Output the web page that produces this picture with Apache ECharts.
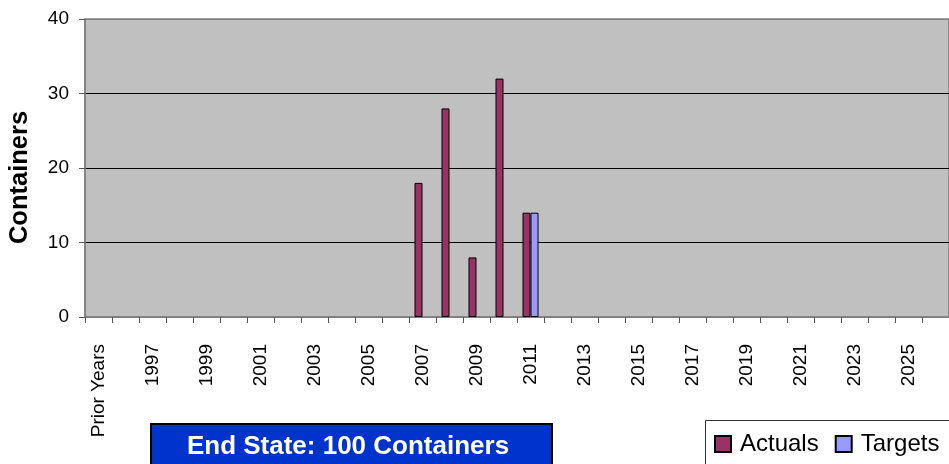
<!DOCTYPE html>
<html>
<head>
<meta charset="utf-8">
<script src="https://cdn.jsdelivr.net/npm/echarts@6/dist/echarts.min.js"></script>
<style>
html,body{margin:0;padding:0;background:#fff;}
#c{width:949px;height:464px;}
</style>
</head>
<body>
<div id="c"></div>
<script>
var categories = ['Prior Years','1996','1997','1998','1999','2000','2001','2002','2003','2004','2005','2006','2007','2008','2009','2010','2011','2012','2013','2014','2015','2016','2017','2018','2019','2020','2021','2022','2023','2024','2025','2026'];
var actuals = [null,null,null,null,null,null,null,null,null,null,null,null,18,28,8,32,14,null,null,null,null,null,null,null,null,null,null,null,null,null,null,null];
var targets = [null,null,null,null,null,null,null,null,null,null,null,null,null,null,null,null,14,null,null,null,null,null,null,null,null,null,null,null,null,null,null,null];
var yTicks = [0,10,20,30,40];
var yAxisTitle = 'Containers';
var endStateText = 'End State: 100 Containers';

var FONT = '"Liberation Sans", Arial, sans-serif';
var chart = echarts.init(document.getElementById('c'), null, {renderer:'canvas'});
chart.setOption({
  animation: false,
  textStyle: {fontFamily: FONT},
  grid: {left: 85, right: 0, top: 19, bottom: 147, show: true, backgroundColor: '#C0C0C0', borderColor: '#808080', borderWidth: 1.5},
  legend: {
    left: 714, top: 432, padding: 0,
    itemWidth: 16, itemHeight: 16, itemGap: 16,
    icon: 'rect',
    textStyle: {fontSize: 24, color: '#000', fontFamily: FONT, padding: [0,0,0,4]},
    data: ['Actuals','Targets']
  },
  xAxis: {
    type: 'category',
    data: categories,
    boundaryGap: true,
    axisLine: {lineStyle: {color: '#808080', width: 1.5}},
    axisTick: {show: true, interval: 0, length: 6, lineStyle: {color: '#555'}},
    axisLabel: {interval: 1, rotate: 90, margin: 27, fontSize: 19, color: '#000', fontFamily: FONT},
    splitLine: {show: false}
  },
  yAxis: {
    type: 'value',
    min: yTicks[0], max: yTicks[yTicks.length-1], interval: 10,
    axisLine: {show: true, lineStyle: {color: '#808080', width: 1.5}},
    axisTick: {show: true, length: 6, lineStyle: {color: '#555'}},
    axisLabel: {margin: 16, fontSize: 19, color: '#000', fontFamily: FONT},
    splitLine: {show: true, lineStyle: {color: ['#808080','#000','#000','#000','#808080'], width: 1}}
  },
  series: [
    {name: 'Actuals', type: 'bar', data: actuals, barWidth: 8, barGap: '0%',
     itemStyle: {color: '#993366', borderColor: '#000', borderWidth: 1}},
    {name: 'Targets', type: 'bar', data: targets, barWidth: 8,
     itemStyle: {color: '#9999FF', borderColor: '#000', borderWidth: 1}}
  ],
  graphic: [
    {type: 'text', x: 20, y: 177.5, rotation: Math.PI/2, style: {text: yAxisTitle, fill: '#000', font: 'bold 25.5px ' + FONT, textAlign: 'center', textVerticalAlign: 'middle'}, z: 100},
    {type: 'rect', shape: {x: 705.5, y: 420.5, width: 260, height: 80}, style: {fill: 'rgba(0,0,0,0)', stroke: '#333', lineWidth: 1}, z: 100},
    {type: 'rect', shape: {x: 151, y: 424, width: 401, height: 60}, style: {fill: '#0033CC', stroke: '#000', lineWidth: 2}, z: 100},
    {type: 'text', x: 348, y: 447, style: {text: endStateText, fill: '#fff', font: 'bold 26px ' + FONT, textAlign: 'center', textVerticalAlign: 'middle'}, z: 101}
  ]
});
</script>
</body>
</html>
